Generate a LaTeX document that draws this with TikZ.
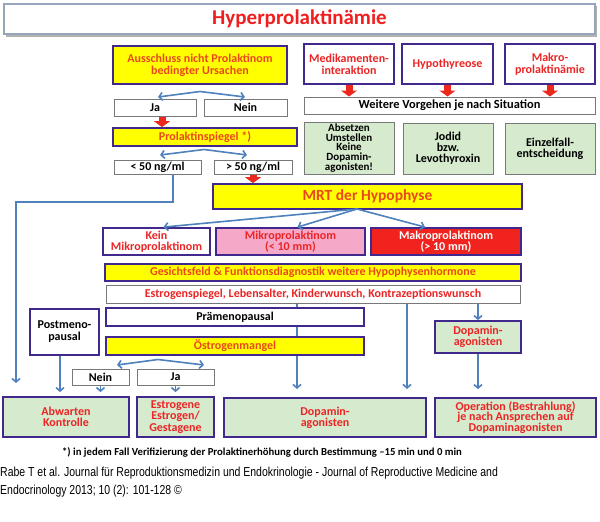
\documentclass[tikz,border=0pt]{standalone}
\usepackage{fontspec}
\setmainfont{Carlito}
\newfontfamily\citefont{Liberation Sans}
\usetikzlibrary{arrows.meta,calc}
\definecolor{pbox}{RGB}{64,40,140}
\definecolor{gbox}{RGB}{120,120,120}
\definecolor{yel}{RGB}{255,255,0}
\definecolor{grn}{RGB}{214,234,206}
\definecolor{pnk}{RGB}{245,168,200}
\definecolor{rbox}{RGB}{240,35,30}
\definecolor{redtxt}{RGB}{236,36,36}
\definecolor{orgtxt}{RGB}{234,72,28}
\definecolor{arrblue}{RGB}{79,129,189}
\definecolor{arrred}{RGB}{236,40,30}
\definecolor{titleb}{RGB}{150,165,185}
\definecolor{titler}{RGB}{240,30,30}
\newcommand\myfs[2]{\fontsize{#1}{#2}\selectfont}
\newcommand\bx[7]{%
  \pgfmathsetmacro\bxw{#4-#2}%
  \pgfmathsetmacro\bxh{#5-#3}%
  \pgfmathsetmacro\bxx{(#2+#4)/2}%
  \pgfmathsetmacro\bxy{(#3+#5)/2}%
  \node[#6, minimum width=\bxw pt, minimum height=\bxh pt] (#1) at (\bxx,\bxy) {#7};}
\begin{document}
\begin{tikzpicture}[x=1pt,y=-1pt,
  base/.style={inner sep=0pt, align=center, font=\myfs{12}{11.2}\bfseries},
  pb/.style={base, draw=pbox, line width=1.8pt},
  gb/.style={base, draw=gbox, line width=1pt},
  yelbox/.style={pb, fill=yel, text=orgtxt},
  whred/.style={pb, fill=white, text=redtxt},
  whblk/.style={pb, fill=white, text=black},
  grayw/.style={gb, fill=white, text=black},
  graygrn/.style={gb, fill=grn, text=black},
  purgrn/.style={pb, fill=grn, text=redtxt},
  barr/.style={draw=arrblue, line width=1.6pt, -{Straight Barb[length=3.5pt,width=8pt]}},
  dbarr/.style={draw=arrblue, line width=1.6pt, {Straight Barb[length=3.5pt,width=8pt]}-{Straight Barb[length=3.5pt,width=8pt]}},
  rarr/.style={draw=arrred, line width=7pt, -{Triangle[length=6pt,width=16pt]}}
]
\useasboundingbox (0,0) rectangle (600,522);
\fill[white] (0,0) rectangle (600,522);

% title
\fill[gray!60] (6,6) rectangle (597,37);
\bx{title}{4}{4}{595}{34}{draw=titleb, line width=1.5pt, fill=white, inner sep=0pt, text=titler, font=\myfs{21}{22}\bfseries}{Hyperprolaktinämie}

% connectors drawn behind boxes
\coordinate (l297a) at (297,303);
\coordinate (l297b) at (297,389);
\coordinate (l407a) at (407,303);
\coordinate (l407b) at (407,389);
\draw[barr] (l297a) -- (l297b);
\draw[barr] (l407a) -- (l407b);

% left column
\bx{aus}{113}{46}{287}{84}{yelbox, font=\myfs{12}{12}\bfseries}{Ausschluss nicht Prolaktinom\\bedingter Ursachen}
\bx{ja1}{114}{99}{196}{116}{grayw}{Ja}
\bx{nein1}{204}{99}{287}{116}{grayw}{Nein}
\bx{prol}{113}{128}{297}{146}{yelbox}{Prolaktinspiegel *)}
\bx{lt50}{114}{160}{201}{174}{grayw}{< 50 ng/ml}
\bx{gt50}{214}{160}{292}{174}{grayw}{> 50 ng/ml}

% right column
\bx{med}{304}{44}{394}{84}{whred, font=\myfs{12}{12}\bfseries}{Medikamenten-\\interaktion}
\bx{hypo}{402}{44}{493}{84}{whred}{Hypothyreose}
\bx{makro}{505}{44}{595}{84}{whred, font=\myfs{12}{12}\bfseries}{Makro-\\prolaktinämie}
\bx{weit}{304}{97}{595}{114}{grayw, font=\myfs{12.4}{12}\bfseries}{Weitere Vorgehen je nach Situation}
\bx{abs}{304}{122}{394}{174}{graygrn, font=\myfs{11}{9.8}\bfseries}{Absetzen\\Umstellen\\Keine\\Dopamin-\\agonisten!}
\bx{jod}{403}{123}{493}{174}{graygrn, font=\myfs{12}{10.8}\bfseries}{Jodid\\bzw.\\Levothyroxin}
\bx{einz}{505}{123}{595}{174}{graygrn}{Einzelfall-\\entscheidung}

% MRT
\bx{mrt}{213}{184}{522}{209}{yelbox, font=\myfs{15.5}{16}\bfseries}{MRT der Hypophyse}
\bx{kein}{103}{228}{210}{255}{whred}{Kein\\Mikroprolaktinom}
\bx{mikro}{216}{228}{365}{255}{pb, fill=pnk, text=redtxt}{Mikroprolaktinom\\(< 10 mm)}
\bx{makp}{371}{228}{521}{255}{pb, fill=rbox, text=white}{Makroprolaktinom\\(> 10 mm)}
\bx{ges}{105}{264}{521}{281}{yelbox}{Gesichtsfeld \& Funktionsdiagnostik weitere Hypophysenhormone}
\bx{est}{106}{285}{520}{303}{gb, fill=white, text=redtxt}{Estrogenspiegel, Lebensalter, Kinderwunsch, Kontrazeptionswunsch}
\bx{prae}{106}{308}{364}{326}{whblk}{Prämenopausal}
\bx{post}{30}{309}{99}{355}{whblk, font=\myfs{12}{12}\bfseries}{Postmeno-\\pausal}
\bx{oest}{106}{337}{364}{355}{yelbox}{Östrogenmangel}
\bx{nein2}{72}{369}{129}{385}{grayw}{Nein}
\bx{ja2}{137}{369}{214}{385}{grayw}{Ja}
\bx{dopr}{435}{321}{521}{353}{purgrn}{Dopamin-\\agonisten}

% bottom row
\bx{abw}{3}{397}{129}{437}{purgrn}{Abwarten\\Kontrolle}
\bx{estg}{137}{397}{214}{437}{purgrn}{Estrogene\\Estrogen/\\Gestagene}
\bx{dopm}{224}{398}{426}{437}{purgrn}{Dopamin-\\agonisten}
\bx{oper}{435}{398}{596}{437}{purgrn, font=\myfs{12}{10.6}\bfseries}{Operation (Bestrahlung)\\je nach Ansprechen auf\\Dopaminagonisten}

% double arrows
\coordinate (d1l) at (158,97); \coordinate (d1p) at (200,91.5); \coordinate (d1r) at (245,97);
\draw[dbarr] (d1l) -- (d1p) -- (d1r);
\coordinate (d2l) at (160,155); \coordinate (d2p) at (204,149.5); \coordinate (d2r) at (247,155);
\draw[dbarr] (d2l) -- (d2p) -- (d2r);
\coordinate (d3l) at (117,365); \coordinate (d3p) at (158,359.5); \coordinate (d3r) at (204,365);
\draw[dbarr] (d3l) -- (d3p) -- (d3r);

% red block arrows
\draw[rarr] ([xshift=7pt]ja1.south) -- ([xshift=7pt]ja1.south |- prol.north);
\draw[rarr] (med.south) -- (med.south |- weit.north);
\draw[rarr] (hypo.south) -- (hypo.south |- weit.north);
\draw[rarr] (makro.south) -- (makro.south |- weit.north);
\draw[rarr] (gt50.south) -- (gt50.south |- mrt.north);

% <50 path
\coordinate (c16a) at (16,202);
\coordinate (c16b) at (16,383);
\draw[barr] ([xshift=15.5pt]lt50.south) |- (c16a) -- (c16b);

% MRT arrows
\coordinate (mrtb) at (357,209);
\draw[barr] (mrtb) -- ([xshift=7pt]kein.north);
\draw[barr] (mrtb) -- ([xshift=7pt]mikro.north);
\draw[barr] (mrtb) -- ([xshift=-21pt]makp.north);

% lower arrows
\draw[barr, shorten >=4pt] ([xshift=-4.5pt]post.south) -- ([xshift=-4.5pt]post.south |- abw.north);
\draw[barr, shorten >=4pt] (nein2.south) -- (nein2.south |- abw.north);
\draw[barr, shorten >=4pt] (ja2.south) -- (ja2.south |- estg.north);
\draw[barr] (dopr.north |- est.south) -- (dopr.north);
\draw[barr, shorten >=8pt] (dopr.south) -- (dopr.south |- oper.north);

% caption
\node[inner sep=0pt, font=\myfs{10.7}{12}\bfseries] (cap) at (262,452) {*) in jedem Fall Verifizierung der Prolaktinerhöhung durch Bestimmung –15 min und 0 min};
\node[inner sep=0pt, anchor=west, font=\citefont\myfs{13}{14}] (cit1) at (0,473) {\scalebox{0.806}[1]{Rabe T et al. Journal für Reproduktionsmedizin und Endokrinologie - Journal of Reproductive Medicine and}};
\node[inner sep=0pt, anchor=west, font=\citefont\myfs{13}{14}] (cit2) at (0,491) {\scalebox{0.806}[1]{Endocrinology 2013; 10 (2): 101-128 ©}};
\end{tikzpicture}
\end{document}
